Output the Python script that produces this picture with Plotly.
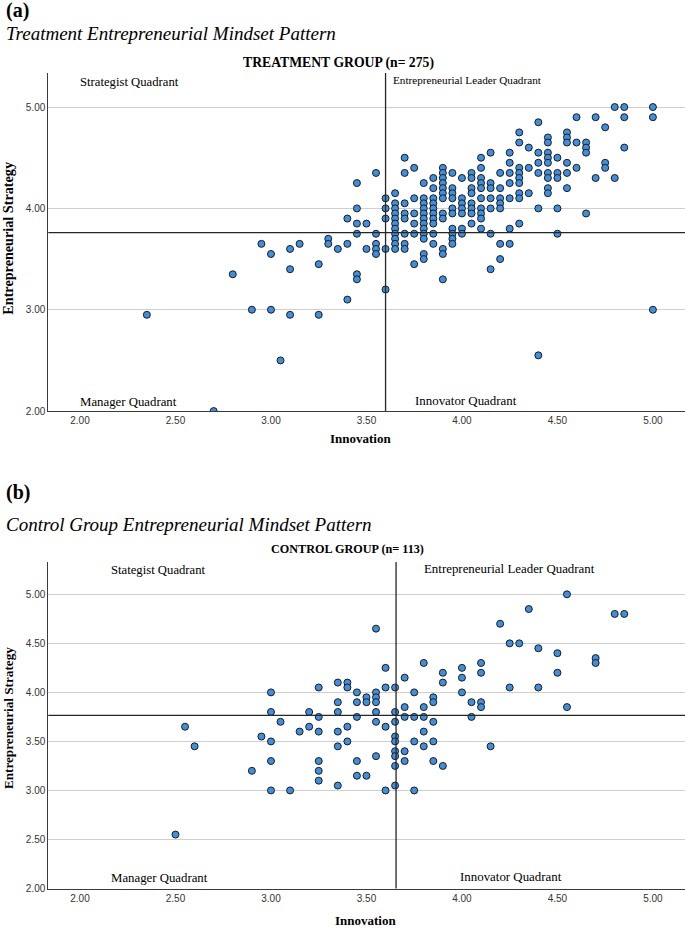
import plotly.graph_objects as go

# ---------------- DATA ----------------
# Treatment group (n = 275, overlapping points drawn once)
treat_innovation = [
    2.35, 2.70, 2.80, 2.90, 2.95,
    3.00, 3.00, 3.05, 3.10, 3.10, 3.10, 3.15, 3.25, 3.25, 3.30, 3.30, 3.35,
    3.40, 3.40, 3.40,
    3.45, 3.45, 3.45, 3.45, 3.45, 3.45,
    3.50, 3.50,
    3.55, 3.55, 3.55, 3.55, 3.55,
    3.60, 3.60, 3.60, 3.60, 3.60,
    3.65, 3.65, 3.65, 3.65, 3.65, 3.65, 3.65, 3.65, 3.65, 3.65, 3.65,
    3.70, 3.70, 3.70, 3.70, 3.70, 3.70, 3.70, 3.70,
    3.75, 3.75, 3.75, 3.75, 3.75, 3.75,
    3.80, 3.80, 3.80, 3.80, 3.80, 3.80, 3.80, 3.80, 3.80, 3.80, 3.80, 3.80,
    3.85, 3.85, 3.85, 3.85, 3.85, 3.85, 3.85, 3.85, 3.85, 3.85,
    3.90, 3.90, 3.90, 3.90, 3.90, 3.90, 3.90, 3.90, 3.90, 3.90, 3.90, 3.90,
    3.95, 3.95, 3.95, 3.95, 3.95, 3.95, 3.95, 3.95, 3.95, 3.95,
    4.00, 4.00, 4.00, 4.00, 4.00, 4.00, 4.00,
    4.05, 4.05, 4.05, 4.05, 4.05, 4.05, 4.05, 4.05,
    4.10, 4.10, 4.10, 4.10, 4.10, 4.10, 4.10, 4.10, 4.10, 4.10,
    4.15, 4.15, 4.15, 4.15, 4.15, 4.15, 4.15,
    4.20, 4.20, 4.20, 4.20, 4.20, 4.20, 4.20,
    4.25, 4.25, 4.25, 4.25, 4.25, 4.25, 4.25,
    4.30, 4.30, 4.30, 4.30, 4.30, 4.30, 4.30, 4.30, 4.30,
    4.35, 4.35, 4.35,
    4.40, 4.40, 4.40, 4.40, 4.40, 4.40,
    4.45, 4.45, 4.45, 4.45, 4.45, 4.45, 4.45, 4.45, 4.45,
    4.50, 4.50, 4.50, 4.50, 4.50,
    4.55, 4.55, 4.55, 4.55, 4.55, 4.55,
    4.60, 4.60, 4.60,
    4.65, 4.65, 4.65, 4.65,
    4.70, 4.70,
    4.75, 4.75, 4.75,
    4.80, 4.80,
    4.85, 4.85, 4.85,
    5.00, 5.00, 5.00,
]
treat_strategy = [
    2.95, 2.00, 3.35, 3.00, 3.65,
    3.55, 3.00, 2.50, 3.60, 3.40, 2.95, 3.65, 3.45, 2.95, 3.70, 3.65, 3.60,
    3.90, 3.65, 3.10,
    4.25, 4.00, 3.85, 3.75, 3.35, 3.30,
    3.85, 3.60,
    4.35, 3.75, 3.65, 3.60, 3.55,
    4.10, 4.00, 3.90, 3.60, 3.20,
    4.15, 4.05, 4.00, 3.95, 3.90, 3.85, 3.80, 3.75, 3.70, 3.65, 3.60,
    4.50, 4.35, 4.05, 3.95, 3.90, 3.75, 3.65, 3.60,
    4.40, 4.10, 3.95, 3.85, 3.75, 3.45,
    4.25, 4.10, 4.05, 4.00, 3.95, 3.90, 3.85, 3.80, 3.75, 3.70, 3.55, 3.50,
    4.30, 4.20, 4.10, 4.05, 4.00, 3.95, 3.90, 3.85, 3.75, 3.65,
    4.40, 4.35, 4.30, 4.25, 4.20, 4.15, 4.10, 3.95, 3.90, 3.60, 3.55, 3.30,
    4.35, 4.20, 4.15, 4.10, 4.00, 3.95, 3.80, 3.75, 3.70, 3.65,
    4.30, 4.10, 4.05, 4.00, 3.95, 3.80, 3.75,
    4.35, 4.30, 4.20, 4.15, 4.05, 4.00, 3.95, 3.85,
    4.50, 4.40, 4.30, 4.25, 4.20, 4.10, 4.00, 3.95, 3.90, 3.80,
    4.55, 4.25, 4.20, 4.10, 4.00, 3.75, 3.40,
    4.35, 4.20, 4.10, 4.05, 4.00, 3.65, 3.50,
    4.55, 4.45, 4.35, 4.25, 4.10, 3.80, 3.65,
    4.75, 4.65, 4.40, 4.35, 4.30, 4.25, 4.15, 4.10, 3.85,
    4.60, 4.40, 4.15,
    4.85, 4.55, 4.45, 4.35, 4.00, 2.55,
    4.70, 4.65, 4.55, 4.50, 4.45, 4.35, 4.30, 4.20, 4.15,
    4.50, 4.35, 4.30, 4.00, 3.75,
    4.75, 4.70, 4.65, 4.45, 4.35, 4.20,
    4.90, 4.65, 4.40,
    4.65, 4.60, 4.55, 3.95,
    4.90, 4.30,
    4.80, 4.45, 4.40,
    5.00, 4.30,
    5.00, 4.90, 4.60,
    5.00, 4.90, 3.00,
]

# Control group (n = 113)
control_innovation = [
    2.50, 2.55, 2.60, 2.90, 2.95,
    3.00, 3.00, 3.00, 3.00, 3.00,
    3.05, 3.10, 3.15, 3.20, 3.20,
    3.25, 3.25, 3.25, 3.25, 3.25, 3.25,
    3.35, 3.35, 3.35, 3.35, 3.35, 3.35,
    3.40, 3.40, 3.40, 3.40,
    3.45, 3.45, 3.45, 3.45, 3.45,
    3.50, 3.50, 3.50,
    3.55, 3.55, 3.55, 3.55, 3.55, 3.55, 3.55,
    3.60, 3.60, 3.60, 3.60,
    3.65, 3.65, 3.65, 3.65, 3.65, 3.65, 3.65, 3.65, 3.65,
    3.70, 3.70, 3.70, 3.70, 3.70,
    3.75, 3.75, 3.75, 3.75,
    3.80, 3.80, 3.80, 3.80, 3.80,
    3.85, 3.85, 3.85, 3.85, 3.85,
    3.90, 3.90, 3.90,
    4.00, 4.00, 4.00,
    4.05, 4.05,
    4.10, 4.10, 4.10, 4.10,
    4.15, 4.20, 4.25, 4.25, 4.30, 4.35, 4.40, 4.40,
    4.50, 4.50, 4.55, 4.55, 4.70, 4.70, 4.80, 4.85,
]
control_strategy = [
    2.55, 3.65, 3.45, 3.20, 3.55,
    4.00, 3.80, 3.50, 3.30, 3.00,
    3.70, 3.00, 3.60, 3.80, 3.65,
    4.05, 3.75, 3.60, 3.30, 3.20, 3.10,
    4.10, 3.90, 3.80, 3.60, 3.45, 3.05,
    4.10, 4.05, 3.65, 3.50,
    4.00, 3.90, 3.75, 3.30, 3.15,
    3.95, 3.90, 3.15,
    4.65, 4.00, 3.95, 3.90, 3.80, 3.70, 3.35,
    4.25, 4.05, 3.65, 3.00,
    4.05, 3.80, 3.70, 3.55, 3.50, 3.40, 3.35, 3.25, 3.05,
    4.15, 3.85, 3.75, 3.40, 3.30,
    4.00, 3.75, 3.50, 3.00,
    4.30, 3.85, 3.75, 3.60, 3.45,
    3.95, 3.90, 3.70, 3.50, 3.30,
    4.20, 4.10, 3.25,
    4.25, 4.15, 4.00,
    3.90, 3.75,
    4.30, 4.20, 3.90, 3.85,
    3.45, 4.70, 4.50, 4.05, 4.50, 4.85, 4.45, 4.05,
    4.40, 4.20, 5.00, 3.85, 4.35, 4.30, 4.80, 4.80,
]

# Reference (mean) lines
treat_mean_innovation = 3.60
treat_mean_strategy = 3.76
control_mean_innovation = 3.655
control_mean_strategy = 3.765

# Tick values / labels
x_tickvals = [2.0, 2.5, 3.0, 3.5, 4.0, 4.5, 5.0]
x_ticktext = ["2.00", "2.50", "3.00", "3.50", "4.00", "4.50", "5.00"]
treat_y_tickvals = [2.0, 3.0, 4.0, 5.0]
treat_y_ticktext = ["2.00", "3.00", "4.00", "5.00"]
control_y_tickvals = [2.0, 2.5, 3.0, 3.5, 4.0, 4.5, 5.0]
control_y_ticktext = ["2.00", "2.50", "3.00", "3.50", "4.00", "4.50", "5.00"]

# ---------------- FIGURE ----------------
W, H = 685, 931
SERIF = "Liberation Serif, Times New Roman, serif"
SANS = "Liberation Sans, Arial, sans-serif"
BLUE = "#3F8FDD"


def px(xp):
    return xp / W


def py(yp):
    return 1 - yp / H


marker = dict(size=7, color=BLUE, line=dict(color="#1c1c1c", width=1))

fig = go.Figure()
fig.add_trace(go.Scatter(x=treat_innovation, y=treat_strategy, mode="markers",
                         marker=marker, xaxis="x", yaxis="y",
                         showlegend=False, hoverinfo="skip"))
fig.add_trace(go.Scatter(x=control_innovation, y=control_strategy, mode="markers",
                         marker=marker, xaxis="x2", yaxis="y2",
                         showlegend=False, hoverinfo="skip"))

x_common = dict(domain=[px(48.3), 1.0], range=[1.834, 5.168],
                tickvals=x_tickvals, ticktext=x_ticktext,
                showgrid=False, zeroline=False, showline=True,
                linecolor="#3a3a3a", linewidth=1, ticks="",
                tickfont=dict(family=SANS, size=10, color="#333"))
y_common = dict(showgrid=True, gridcolor="#cfcfcf", gridwidth=1,
                zeroline=False, showline=True, linecolor="#3a3a3a",
                linewidth=1, ticks="",
                tickfont=dict(family=SANS, size=10, color="#333"))

fig.update_layout(
    width=W, height=H,
    margin=dict(l=0, r=0, t=0, b=0),
    paper_bgcolor="white", plot_bgcolor="white",
    xaxis=dict(anchor="y", **x_common),
    yaxis=dict(anchor="x", domain=[py(413.3), py(73.3)], range=[2.0, 5.337],
               tickvals=treat_y_tickvals, ticktext=treat_y_ticktext, **y_common),
    xaxis2=dict(anchor="y2", **x_common),
    yaxis2=dict(anchor="x2", domain=[py(893.3), py(565)], range=[2.0, 5.33],
                tickvals=control_y_tickvals, ticktext=control_y_ticktext, **y_common),
)

line_style = dict(color="#262626", width=1.3)
fig.add_shape(type="line", xref="x", yref="y domain", x0=treat_mean_innovation,
              x1=treat_mean_innovation, y0=0, y1=1, line=line_style)
fig.add_shape(type="line", xref="x domain", yref="y", x0=0, x1=1,
              y0=treat_mean_strategy, y1=treat_mean_strategy, line=line_style)
fig.add_shape(type="line", xref="x2", yref="y2 domain", x0=control_mean_innovation,
              x1=control_mean_innovation, y0=0, y1=1, line=line_style)
fig.add_shape(type="line", xref="x2 domain", yref="y2", x0=0, x1=1,
              y0=control_mean_strategy, y1=control_mean_strategy, line=line_style)


def note(text, x, y, size, xanchor="left", bold=False, italic=False, angle=0, family=SERIF):
    t = text
    if bold:
        t = "<b>" + t + "</b>"
    if italic:
        t = "<i>" + t + "</i>"
    fig.add_annotation(text=t, xref="paper", yref="paper", x=px(x), y=py(y),
                       xanchor=xanchor, yanchor="middle", showarrow=False,
                       textangle=angle,
                       font=dict(family=family, size=size, color="black"))


# Panel (a)
note("(a)", 4, 11, 20, bold=True)
note("Treatment Entrepreneurial Mindset Pattern", 4, 34, 19, italic=True)
note("TREATMENT GROUP (n= 275)", 338.5, 63, 13.7, xanchor="center", bold=True)
note("Strategist Quadrant", 78, 82, 12.7)
note("Entrepreneurial Leader Quadrant", 391, 80, 11.2)
note("Manager Quadrant", 78, 404, 12.8)
note("Innovator Quadrant", 413, 403, 12.9)
note("Entrepreneurial Strategy", 8, 240, 14.2, xanchor="center", bold=True, angle=-90)
note("Innovation", 360, 441, 13, xanchor="center", bold=True)

# Panel (b)
note("(b)", 4, 495, 20, bold=True)
note("Control Group Entrepreneurial Mindset Pattern", 4, 527, 19, italic=True)
note("CONTROL GROUP (n= 113)", 347, 552, 12.2, xanchor="center", bold=True)
note("Stategist Quadrant", 109, 573, 12.7)
note("Entrepreneurial Leader Quadrant", 422, 572, 12.9)
note("Manager Quadrant", 109, 883, 12.8)
note("Innovator Quadrant", 458, 882, 12.9)
note("Entrepreneurial Strategy", 8, 722, 13.2, xanchor="center", bold=True, angle=-90)
note("Innovation", 366, 925, 13, xanchor="center", bold=True)

fig.write_html("out.html",
               config={"displayModeBar": False, "staticPlot": True},
               post_script="document.body.style.margin='0';document.body.style.overflow='hidden';")
